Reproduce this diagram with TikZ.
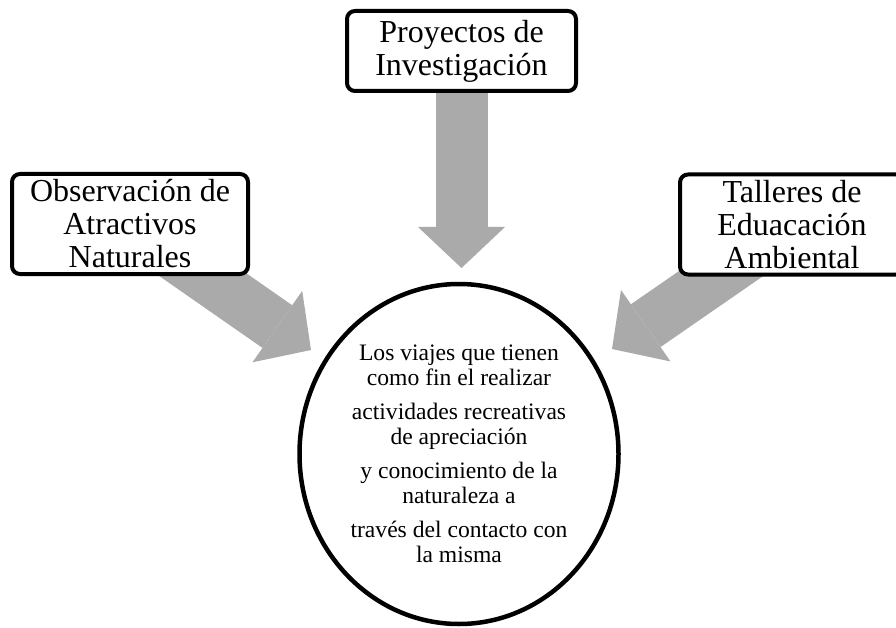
\documentclass[tikz,border=0pt]{standalone}
\usepackage{fontspec}
\setmainfont{Liberation Serif}
\usetikzlibrary{shapes.geometric,arrows.meta,backgrounds}
\definecolor{grisflecha}{RGB}{170,170,170}
\tikzset{
  caja/.style={draw, line width=4pt, rounded corners=8pt, fill=white, align=center,
    inner sep=0pt, font=\fontsize{32}{33}\selectfont},
  flecha/.style={draw=grisflecha, line width=52pt,
    -{Triangle[length=41pt,width=87pt,line width=0pt]}},
}

\begin{document}
\begin{tikzpicture}[x=1pt, y=-1pt]
	\useasboundingbox (0,0) rectangle (896,628);
	\node[caja, minimum width=236pt, minimum height=100pt] (obs) at (130,224) {Observación de\\Atractivos\\Naturales};
	\node[caja, minimum width=229pt, minimum height=80pt] (proy) at (461.5,51) {Proyectos de\\Investigación};
	\node[caja, minimum width=224pt, minimum height=100pt] (tall) at (792,224.5) {Talleres de\\Eduacación\\Ambiental};
	\node[draw, ellipse, line width=4.5pt, minimum width=319pt, minimum height=340pt, inner sep=0pt,
		align=center, font=\fontsize{23.6}{25}\selectfont] (fin) at (459,454)
		{Los viajes que tienen\\como fin el realizar\\[9pt]
		actividades recreativas\\de apreciación\\[9pt]
		y conocimiento de la\\naturaleza a\\[9pt]
		través del contacto con\\la misma};
	% puntas de las flechas
	\coordinate (pObs) at (311,350);
	\coordinate (pProy) at (461.5,268);
	\coordinate (pTall) at (612,349);
	\begin{scope}[on background layer]
		\draw[flecha] (obs.center) -- (pObs);
		\draw[flecha] (proy.center) -- (pProy);
		\draw[flecha] (tall.center) -- (pTall);
	\end{scope}
\end{tikzpicture}
\end{document}
